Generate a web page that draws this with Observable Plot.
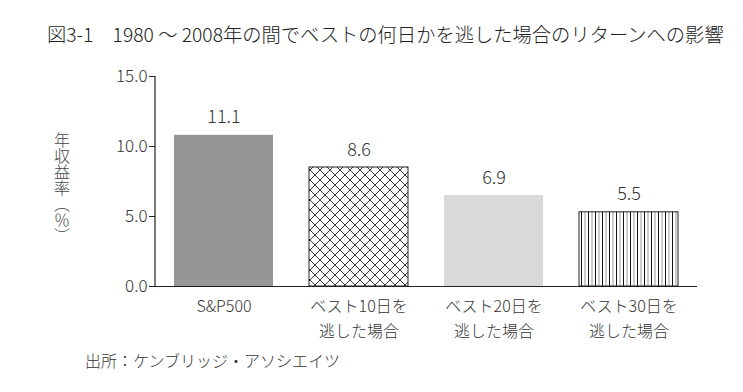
<!DOCTYPE html>
<html>
<head>
<meta charset="utf-8">
<script src="https://cdn.jsdelivr.net/npm/d3@7"></script>
<script src="https://cdn.jsdelivr.net/npm/@observablehq/plot@0.6"></script>
<style>
  html, body { margin: 0; padding: 0; background: #fff; }
  body { width: 743px; height: 392px; position: relative; overflow: hidden;
         font-family: "Noto Sans CJK JP", "Noto Sans", sans-serif; font-weight: 300; color: #333; }
  #title { position: absolute; left: 47px; top: 22px; font-size: 19.3px; line-height: 24px; white-space: pre; color: #222; }
  #chart { position: absolute; left: 0; top: 60px; }
  #caption { position: absolute; left: 85px; top: 349px; font-size: 16px; line-height: 22px; white-space: pre; color: #333; }
</style>
</head>
<body>
<div id="title"></div>
<div id="chart"></div>
<div id="caption"></div>
<script>
const titleText = "図3-1　1980 ～ 2008年の間でベストの何日かを逃した場合のリターンへの影響";
const captionText = "出所：ケンブリッジ・アソシエイツ";
const yLabel = "年収益率（％）";
const categories = ["S&P500", "ベスト10日を\n逃した場合", "ベスト20日を\n逃した場合", "ベスト30日を\n逃した場合"];
const valueLabels = ["11.1", "8.6", "6.9", "5.5"];
const barHeights = [10.8, 8.5, 6.5, 5.3];
const yTicks = [0, 5, 10, 15];
const fills = ["#969696", "url(#crosshatch)", "#d9d9d9", "url(#vstripes)"];
const strokes = ["none", "#222", "none", "#222"];

document.getElementById("title").textContent = titleText;
document.getElementById("caption").textContent = captionText;

const data = categories.map((c, i) => ({cat: c, h: barHeights[i], label: valueLabels[i], fill: fills[i], stroke: strokes[i]}));

const plot = Plot.plot({
  width: 743,
  height: 285,
  marginLeft: 155,
  marginRight: 46,
  marginTop: 16,
  marginBottom: 59,
  style: {fontFamily: '"Noto Sans CJK JP", "Noto Sans", sans-serif', fontWeight: 300, fontSize: "16px", color: "#333", background: "#fff", overflow: "visible"},
  x: {domain: categories, paddingInner: 0.27, paddingOuter: 0.133, label: null},
  y: {domain: [0, 15], label: null},
  color: {type: "identity"},
  marks: [
    Plot.barY(data, {x: "cat", y: "h", fill: "fill", stroke: "stroke", strokeWidth: 1}),
    Plot.text(data, {x: "cat", y: "h", text: "label", dy: -12, lineAnchor: "bottom", fontSize: 18, fill: "#333"}),
    Plot.axisY({ticks: yTicks, tickFormat: d3.format(".1f"), tickSize: 6, tickPadding: 2, fontSize: 17, stroke: "#222", fill: "#333", label: null}),
    Plot.axisX({tickSize: 0, tickPadding: 8, fontSize: 16, lineHeight: 1.55, fill: "#333", label: null}),
    Plot.ruleY([0], {stroke: "#222", strokeWidth: 1.2})
  ]
});

document.getElementById("chart").appendChild(plot);

const svg = d3.select(plot);
const defs = svg.insert("defs", ":first-child");
const ch = defs.append("pattern").attr("id", "crosshatch").attr("patternUnits", "userSpaceOnUse")
  .attr("width", 10).attr("height", 10);
ch.append("rect").attr("width", 10).attr("height", 10).attr("fill", "#fff");
ch.append("path").attr("d", "M-1,-1L11,11M11,-1L-1,11").attr("stroke", "#222").attr("stroke-width", 0.9).attr("fill", "none");
const vs = defs.append("pattern").attr("id", "vstripes").attr("patternUnits", "userSpaceOnUse")
  .attr("width", 7).attr("height", 10);
vs.append("rect").attr("width", 7).attr("height", 10).attr("fill", "#fff");
vs.append("line").attr("x1", 0.5).attr("x2", 0.5).attr("y1", 0).attr("y2", 10).attr("stroke", "#111").attr("stroke-width", 1);
vs.append("line").attr("x1", 4).attr("x2", 4).attr("y1", 0).attr("y2", 10).attr("stroke", "#999").attr("stroke-width", 1);

// y-axis line using the plot's own scales
const ys = plot.scale("y");
svg.append("line")
  .attr("x1", 155).attr("x2", 155)
  .attr("y1", ys.apply(yTicks[yTicks.length - 1])).attr("y2", ys.apply(0))
  .attr("stroke", "#222").attr("stroke-width", 1.2);

// vertical y label
svg.append("text")
  .attr("x", 62).attr("y", 72)
  .attr("text-anchor", "start")
  .style("writing-mode", "vertical-rl")
  .attr("font-size", 16)
  .attr("fill", "#444")
  .text(yLabel);
</script>
</body>
</html>
